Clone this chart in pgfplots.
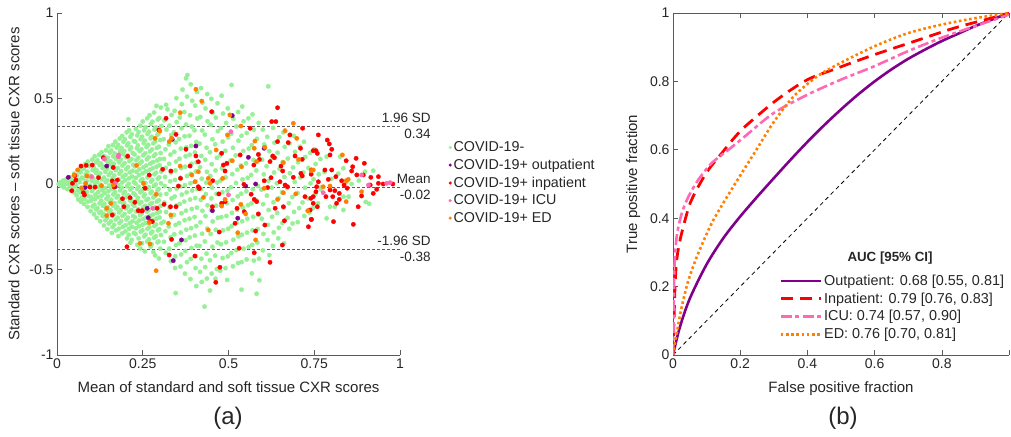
\documentclass[border=0pt]{standalone}
\usepackage{fontspec}
\setmainfont{Liberation Sans}
\usepackage{pgfplots}
\pgfplotsset{compat=1.18}

\definecolor{cgreen}{RGB}{150,240,150}
\definecolor{cpurple}{RGB}{128,0,140}
\definecolor{cred}{RGB}{255,0,0}
\definecolor{cpink}{RGB}{255,105,180}
\definecolor{corange}{RGB}{255,128,0}
\definecolor{axcol}{RGB}{90,90,90}
\definecolor{txtcol}{RGB}{38,38,38}

\pgfplotsset{
  common/.style={
    scale only axis,
    tick align=inside,
    major tick length=5pt,
    tick style={draw=axcol, line width=0.6pt},
    axis line style={draw=axcol, line width=0.8pt, -},
    tick label style={font=\fontsize{14}{16}\selectfont, text=txtcol},
    label style={font=\fontsize{15}{17}\selectfont, text=txtcol},
    xlabel style={yshift=-6pt},
    ylabel style={yshift=3pt},
  },
  sdots/.style={only marks, mark=*, mark size=2.2pt, color=#1, mark options={line width=0.3pt}},
}

\begin{document}
\begin{tikzpicture}[x=1pt,y=1pt]
\useasboundingbox (0,0) rectangle (1011,436);

% (a) Bland-Altman
\begin{axis}[common,
  at={(57pt,81pt)}, anchor=south west,
  width=343pt, height=342pt,
  xmin=0, xmax=1, ymin=-1, ymax=1,
  axis x line*=bottom, axis y line*=left,
  xtick={0,0.25,0.5,0.75,1}, xticklabels={0,0.25,0.5,0.75,1},
  ytick={-1,-0.5,0,0.5,1}, yticklabels={-1,-0.5,0,0.5,1},
  xlabel={Mean of standard and soft tissue CXR scores},
  ylabel={Standard CXR scores -- soft tissue CXR scores},
  clip=false,
  legend style={at={(1.133,0.636)}, anchor=north west, draw=none, fill=none,
    font=\fontsize{14.3}{16}\selectfont, text=txtcol, row sep=2pt},
  legend cell align=left,
  legend image code/.code={\draw[mark repeat=2,mark phase=2,#1] plot coordinates {(0pt,0pt) (3pt,0pt) (11pt,0pt)};},
  legend image post style={mark size=1.4pt},
]
% COVID-19-
\addplot[sdots=cgreen] coordinates {
(0.005,0.0) (0.01,0.01) (0.012,-0.01) (0.018,0.02) (0.02,-0.02) (0.025,0.0) (0.028,0.03) (0.03,-0.03) (0.035,0.01) (0.038,-0.01) (0.04,0.04) (0.042,-0.04) (0.045,0.02) (0.048,-0.02) (0.05,0.06) (0.05,-0.05) (0.052,0.0) (0.015,0.0) (0.032,0.0) (0.022,0.01)
(0.063,0.083) (0.058,0.052) (0.064,0.024) (0.056,-0.008) (0.061,-0.037) (0.057,-0.066) (0.062,-0.091)
(0.07,0.097) (0.069,0.069) (0.073,0.037) (0.066,0.011) (0.071,-0.021) (0.067,-0.048) (0.072,-0.079) (0.07,-0.104)
(0.083,0.118) (0.078,0.089) (0.084,0.058) (0.076,0.033) (0.081,0.002) (0.077,-0.031) (0.082,-0.057) (0.08,-0.088) (0.079,-0.117)
(0.09,0.131) (0.094,0.104) (0.088,0.072) (0.093,0.041) (0.086,0.016) (0.091,-0.014) (0.087,-0.046) (0.092,-0.071) (0.09,-0.103) (0.089,-0.134)
(0.103,0.143) (0.098,0.109) (0.104,0.082) (0.096,0.048) (0.101,0.019) (0.097,-0.009) (0.102,-0.041) (0.1,-0.076) (0.099,-0.098) (0.104,-0.131) (0.098,-0.158)
(0.11,0.162) (0.114,0.127) (0.108,0.094) (0.113,0.066) (0.106,0.031) (0.111,0.004) (0.107,-0.027) (0.112,-0.062) (0.11,-0.089) (0.109,-0.121) (0.114,-0.148) (0.108,-0.177)
(0.123,0.171) (0.118,0.138) (0.124,0.112) (0.116,0.079) (0.121,0.047) (0.117,0.013) (0.122,-0.018) (0.12,-0.047) (0.119,-0.076) (0.124,-0.113) (0.118,-0.141) (0.123,-0.168) (0.116,-0.198)
(0.13,0.186) (0.134,0.158) (0.128,0.121) (0.133,0.093) (0.126,0.062) (0.131,0.027) (0.127,-0.004) (0.132,-0.036) (0.13,-0.068) (0.129,-0.097) (0.134,-0.128) (0.128,-0.162) (0.133,-0.187) (0.126,-0.218)
(0.143,0.197) (0.138,0.163) (0.144,0.136) (0.136,0.102) (0.141,0.071) (0.137,0.038) (0.142,0.011) (0.14,-0.024) (0.139,-0.053) (0.144,-0.087) (0.138,-0.116) (0.143,-0.149) (0.136,-0.177) (0.141,-0.212) (0.137,-0.243)
(0.15,0.221) (0.154,0.184) (0.148,0.153) (0.153,0.117) (0.146,0.089) (0.151,0.053) (0.147,0.021) (0.152,-0.009) (0.15,-0.042) (0.149,-0.071) (0.154,-0.104) (0.148,-0.137) (0.153,-0.166) (0.146,-0.198) (0.151,-0.231) (0.147,-0.264)
(0.163,0.228) (0.158,0.196) (0.164,0.161) (0.156,0.132) (0.161,0.097) (0.157,0.066) (0.162,0.034) (0.16,0.003) (0.159,-0.029) (0.164,-0.061) (0.158,-0.092) (0.163,-0.127) (0.156,-0.154) (0.161,-0.188) (0.157,-0.219) (0.162,-0.252) (0.16,-0.286)
(0.17,0.248) (0.174,0.213) (0.168,0.179) (0.173,0.146) (0.166,0.118) (0.171,0.081) (0.167,0.049) (0.172,0.017) (0.17,-0.016) (0.169,-0.047) (0.174,-0.079) (0.168,-0.112) (0.173,-0.143) (0.166,-0.177) (0.171,-0.208) (0.167,-0.239) (0.172,-0.271)
(0.183,0.266) (0.178,0.229) (0.184,0.193) (0.176,0.158) (0.181,0.127) (0.177,0.093) (0.182,0.061) (0.18,0.027) (0.179,-0.006) (0.184,-0.037) (0.178,-0.069) (0.183,-0.103) (0.176,-0.134) (0.181,-0.166) (0.177,-0.197) (0.182,-0.228) (0.18,-0.262) (0.179,-0.305)
(0.19,0.281) (0.194,0.247) (0.188,0.211) (0.193,0.174) (0.186,0.143) (0.191,0.108) (0.187,0.076) (0.192,0.043) (0.19,0.009) (0.189,-0.022) (0.194,-0.056) (0.188,-0.088) (0.193,-0.121) (0.186,-0.153) (0.191,-0.186) (0.187,-0.217) (0.192,-0.251) (0.19,-0.289)
(0.203,0.302) (0.198,0.262) (0.204,0.226) (0.196,0.193) (0.201,0.156) (0.197,0.122) (0.202,0.087) (0.2,0.054) (0.199,0.022) (0.204,-0.013) (0.198,-0.046) (0.203,-0.077) (0.196,-0.111) (0.201,-0.142) (0.197,-0.176) (0.202,-0.208) (0.2,-0.241) (0.199,-0.277) (0.204,-0.318)
(0.21,0.314) (0.214,0.276) (0.208,0.238) (0.213,0.203) (0.206,0.167) (0.211,0.134) (0.207,0.099) (0.212,0.068) (0.21,0.033) (0.209,0.001) (0.214,-0.032) (0.208,-0.066) (0.213,-0.097) (0.206,-0.131) (0.211,-0.163) (0.207,-0.197) (0.212,-0.229) (0.21,-0.262) (0.209,-0.297) (0.214,-0.343)
(0.208,0.378) (0.218,0.291) (0.224,0.252) (0.216,0.214) (0.221,0.181) (0.217,0.146) (0.222,0.112) (0.22,0.077) (0.219,0.044) (0.224,0.012) (0.218,-0.023) (0.223,-0.054) (0.216,-0.088) (0.221,-0.119) (0.217,-0.152) (0.222,-0.187) (0.22,-0.218) (0.219,-0.251) (0.224,-0.286) (0.218,-0.327)
(0.23,0.322) (0.234,0.284) (0.228,0.247) (0.233,0.209) (0.226,0.173) (0.231,0.139) (0.227,0.104) (0.232,0.071) (0.23,0.036) (0.229,0.003) (0.234,-0.029) (0.228,-0.064) (0.233,-0.096) (0.226,-0.128) (0.231,-0.161) (0.227,-0.194) (0.232,-0.227) (0.23,-0.259) (0.229,-0.293) (0.234,-0.356)
(0.243,0.341) (0.238,0.304) (0.244,0.262) (0.236,0.226) (0.241,0.192) (0.237,0.154) (0.242,0.121) (0.24,0.086) (0.239,0.052) (0.244,0.019) (0.238,-0.016) (0.243,-0.048) (0.236,-0.081) (0.241,-0.114) (0.237,-0.147) (0.242,-0.181) (0.24,-0.213) (0.239,-0.247) (0.244,-0.279) (0.238,-0.318) (0.243,-0.377)
(0.25,0.366) (0.254,0.314) (0.248,0.277) (0.253,0.239) (0.246,0.203) (0.251,0.168) (0.247,0.131) (0.252,0.097) (0.25,0.063) (0.249,0.028) (0.254,-0.006) (0.248,-0.039) (0.253,-0.072) (0.246,-0.106) (0.251,-0.138) (0.247,-0.172) (0.252,-0.204) (0.25,-0.238) (0.249,-0.271) (0.254,-0.306) (0.248,-0.346)
(0.263,0.384) (0.258,0.331) (0.264,0.292) (0.256,0.253) (0.261,0.216) (0.257,0.179) (0.262,0.144) (0.26,0.108) (0.259,0.074) (0.264,0.039) (0.258,0.006) (0.263,-0.028) (0.256,-0.061) (0.261,-0.094) (0.257,-0.128) (0.262,-0.161) (0.26,-0.196) (0.259,-0.228) (0.264,-0.262) (0.258,-0.297) (0.263,-0.336) (0.256,-0.394)
(0.27,0.402) (0.274,0.351) (0.268,0.306) (0.273,0.267) (0.266,0.229) (0.271,0.191) (0.267,0.156) (0.272,0.119) (0.27,0.083) (0.269,0.048) (0.274,0.014) (0.268,-0.019) (0.273,-0.053) (0.266,-0.087) (0.271,-0.119) (0.267,-0.153) (0.272,-0.186) (0.27,-0.221) (0.269,-0.253) (0.274,-0.288) (0.268,-0.324) (0.273,-0.366)
(0.283,0.418) (0.278,0.364) (0.284,0.318) (0.276,0.276) (0.281,0.238) (0.277,0.202) (0.282,0.163) (0.28,0.128) (0.279,0.092) (0.284,0.057) (0.278,0.024) (0.283,-0.011) (0.276,-0.044) (0.281,-0.078) (0.277,-0.111) (0.282,-0.144) (0.28,-0.178) (0.279,-0.212) (0.284,-0.246) (0.278,-0.279) (0.283,-0.314) (0.276,-0.352) (0.281,-0.398)
(0.29,0.457) (0.294,0.377) (0.288,0.331) (0.293,0.289) (0.286,0.249) (0.291,0.211) (0.287,0.174) (0.292,0.137) (0.29,0.101) (0.289,0.066) (0.294,0.031) (0.288,-0.003) (0.293,-0.037) (0.286,-0.069) (0.291,-0.103) (0.287,-0.137) (0.292,-0.169) (0.29,-0.203) (0.289,-0.237) (0.294,-0.271) (0.288,-0.306) (0.293,-0.341) (0.286,-0.417)
(0.303,0.447) (0.298,0.386) (0.304,0.339) (0.296,0.296) (0.301,0.257) (0.297,0.218) (0.302,0.181) (0.3,0.146) (0.299,0.109) (0.304,0.073) (0.298,0.038) (0.303,0.004) (0.296,-0.029) (0.301,-0.062) (0.297,-0.096) (0.302,-0.128) (0.3,-0.162) (0.299,-0.196) (0.304,-0.229) (0.298,-0.264) (0.303,-0.298) (0.296,-0.336) (0.301,-0.378) (0.297,-0.436)
(0.318,0.463) (0.313,0.372) (0.319,0.318) (0.311,0.262) (0.316,0.203) (0.312,0.147) (0.317,0.094) (0.315,0.041) (0.314,-0.012) (0.319,-0.058) (0.313,-0.109) (0.318,-0.164) (0.311,-0.221) (0.316,-0.276) (0.312,-0.338) (0.317,-0.402)
(0.322,0.437) (0.334,0.404) (0.328,0.341) (0.333,0.286) (0.326,0.231) (0.331,0.172) (0.327,0.118) (0.332,0.067) (0.33,0.016) (0.329,-0.033) (0.334,-0.084) (0.328,-0.137) (0.333,-0.192) (0.326,-0.249) (0.331,-0.311) (0.327,-0.378) (0.332,-0.452)
(0.348,0.502) (0.343,0.428) (0.349,0.362) (0.341,0.302) (0.346,0.244) (0.342,0.188) (0.347,0.131) (0.345,0.079) (0.344,0.024) (0.349,-0.027) (0.343,-0.073) (0.348,-0.126) (0.341,-0.181) (0.346,-0.239) (0.342,-0.294) (0.347,-0.357) (0.345,-0.423) (0.344,-0.491) (0.346,-0.638)
(0.366,0.552) (0.364,0.467) (0.358,0.389) (0.363,0.326) (0.356,0.263) (0.361,0.207) (0.357,0.148) (0.362,0.093) (0.36,0.036) (0.359,-0.014) (0.364,-0.062) (0.358,-0.117) (0.363,-0.171) (0.356,-0.228) (0.361,-0.284) (0.357,-0.346) (0.362,-0.412) (0.36,-0.483)
(0.38,0.637) (0.376,0.618) (0.379,0.511) (0.371,0.421) (0.376,0.348) (0.372,0.279) (0.377,0.214) (0.375,0.162) (0.374,0.101) (0.379,0.047) (0.373,-0.007) (0.378,-0.049) (0.371,-0.103) (0.376,-0.156) (0.372,-0.212) (0.377,-0.267) (0.375,-0.329) (0.374,-0.391) (0.379,-0.457) (0.373,-0.524)
(0.39,0.583) (0.394,0.487) (0.388,0.402) (0.393,0.336) (0.386,0.282) (0.391,0.223) (0.387,0.171) (0.392,0.118) (0.39,0.059) (0.389,0.004) (0.394,-0.038) (0.388,-0.091) (0.393,-0.146) (0.386,-0.203) (0.391,-0.258) (0.387,-0.312) (0.392,-0.374) (0.39,-0.438) (0.389,-0.556)
(0.408,0.538) (0.403,0.458) (0.409,0.383) (0.401,0.314) (0.406,0.246) (0.402,0.184) (0.407,0.127) (0.405,0.073) (0.404,0.016) (0.409,-0.029) (0.403,-0.082) (0.408,-0.138) (0.401,-0.193) (0.406,-0.246) (0.402,-0.302) (0.407,-0.361) (0.405,-0.423) (0.404,-0.492) (0.406,-0.597)
(0.42,0.561) (0.424,0.476) (0.418,0.392) (0.423,0.313) (0.416,0.236) (0.421,0.164) (0.417,0.098) (0.422,0.031) (0.42,-0.028) (0.419,-0.093) (0.424,-0.157) (0.418,-0.224) (0.423,-0.291) (0.416,-0.362) (0.421,-0.437) (0.417,-0.514) (0.422,-0.573)
(0.438,0.526) (0.433,0.442) (0.439,0.367) (0.431,0.289) (0.436,0.212) (0.432,0.142) (0.437,0.071) (0.435,0.008) (0.434,-0.059) (0.439,-0.124) (0.433,-0.188) (0.438,-0.261) (0.431,-0.336) (0.436,-0.407) (0.432,-0.486) (0.437,-0.553) (0.43,-0.717)
(0.45,0.498) (0.454,0.417) (0.448,0.346) (0.453,0.262) (0.446,0.186) (0.451,0.116) (0.447,0.047) (0.452,-0.021) (0.45,-0.084) (0.449,-0.152) (0.454,-0.219) (0.448,-0.292) (0.453,-0.367) (0.446,-0.446) (0.451,-0.524) (0.446,-0.623)
(0.468,0.472) (0.463,0.388) (0.469,0.309) (0.461,0.232) (0.466,0.153) (0.462,0.079) (0.467,0.009) (0.465,-0.058) (0.464,-0.127) (0.469,-0.198) (0.463,-0.268) (0.468,-0.342) (0.461,-0.419) (0.466,-0.497) (0.462,-0.554)
(0.48,0.516) (0.484,0.412) (0.478,0.327) (0.483,0.248) (0.476,0.168) (0.481,0.092) (0.477,0.021) (0.482,-0.048) (0.48,-0.121) (0.479,-0.194) (0.484,-0.271) (0.478,-0.352) (0.483,-0.433) (0.476,-0.507)
(0.498,0.442) (0.493,0.357) (0.499,0.273) (0.491,0.194) (0.496,0.116) (0.492,0.038) (0.497,-0.039) (0.495,-0.112) (0.494,-0.187) (0.499,-0.262) (0.493,-0.341) (0.498,-0.423) (0.491,-0.492) (0.496,-0.561)
(0.509,0.579) (0.514,0.382) (0.508,0.294) (0.513,0.212) (0.506,0.137) (0.511,0.058) (0.507,-0.019) (0.512,-0.094) (0.51,-0.169) (0.509,-0.247) (0.514,-0.326) (0.508,-0.404) (0.513,-0.481)
(0.528,0.421) (0.523,0.336) (0.529,0.253) (0.521,0.167) (0.526,0.083) (0.522,0.006) (0.527,-0.072) (0.525,-0.151) (0.524,-0.228) (0.529,-0.306) (0.523,-0.387) (0.528,-0.462)
(0.54,0.453) (0.544,0.367) (0.538,0.282) (0.543,0.193) (0.536,0.108) (0.541,0.027) (0.537,-0.057) (0.542,-0.137) (0.54,-0.218) (0.539,-0.297) (0.544,-0.378) (0.538,-0.457) (0.538,-0.618)
(0.558,0.384) (0.553,0.298) (0.559,0.207) (0.551,0.121) (0.556,0.036) (0.552,-0.043) (0.557,-0.124) (0.555,-0.203) (0.554,-0.284) (0.559,-0.368) (0.553,-0.441)
(0.57,0.407) (0.574,0.318) (0.568,0.228) (0.573,0.141) (0.566,0.053) (0.571,-0.031) (0.567,-0.113) (0.572,-0.192) (0.57,-0.271) (0.569,-0.356) (0.574,-0.448) (0.568,-0.523)
(0.588,0.357) (0.583,0.264) (0.589,0.171) (0.581,0.079) (0.586,-0.012) (0.582,-0.098) (0.587,-0.181) (0.585,-0.263) (0.584,-0.342) (0.589,-0.437) (0.582,-0.642)
(0.6,0.318) (0.604,0.231) (0.598,0.142) (0.603,0.056) (0.596,-0.033) (0.601,-0.118) (0.597,-0.203) (0.602,-0.292) (0.6,-0.388) (0.59,-0.563)
(0.616,0.571) (0.613,0.276) (0.619,0.192) (0.611,0.104) (0.616,0.018) (0.612,-0.068) (0.617,-0.152) (0.615,-0.239) (0.614,-0.327) (0.619,-0.416)
(0.63,0.328) (0.634,0.241) (0.628,0.153) (0.633,0.067) (0.626,-0.021) (0.631,-0.107) (0.627,-0.192) (0.632,-0.283) (0.63,-0.362)
(0.648,0.274) (0.643,0.183) (0.649,0.089) (0.641,0.004) (0.646,-0.083) (0.642,-0.169) (0.647,-0.256) (0.645,-0.318)
(0.66,0.302) (0.664,0.217) (0.658,0.128) (0.663,0.041) (0.656,-0.048) (0.661,-0.137) (0.657,-0.228) (0.662,-0.347)
(0.678,0.238) (0.673,0.149) (0.679,0.063) (0.671,-0.024) (0.676,-0.112) (0.672,-0.198) (0.677,-0.262)
(0.69,0.281) (0.694,0.188) (0.688,0.097) (0.693,0.012) (0.686,-0.076) (0.691,-0.163) (0.687,-0.231)
(0.708,0.218) (0.703,0.127) (0.709,0.038) (0.701,-0.053) (0.706,-0.141) (0.702,-0.223)
(0.72,0.247) (0.724,0.158) (0.718,0.067) (0.723,-0.022) (0.716,-0.108) (0.721,-0.187)
(0.738,0.183) (0.733,0.094) (0.739,0.004) (0.731,-0.084) (0.736,-0.167)
(0.75,0.204) (0.754,0.117) (0.748,0.028) (0.753,-0.058) (0.746,-0.141)
(0.768,0.146) (0.763,0.057) (0.769,-0.031) (0.761,-0.113)
(0.786,0.16) (0.825,0.16) (0.835,0.092) (0.898,0.072) (0.845,0.014) (0.859,0.0) (0.922,0.078) (0.835,-0.074) (0.85,-0.074) (0.796,-0.133) (0.81,-0.133) (0.835,-0.152) (0.786,-0.201) (0.9,-0.105) (0.91,-0.115) (0.78,0.07) (0.8,0.03) (0.82,0.06) (0.77,-0.02) (0.88,0.02)
};
\addlegendentry{COVID-19-}
% COVID-19+ outpatient
\addplot[sdots=cpurple] coordinates {
(0.033,0.039) (0.145,0.105) (0.082,-0.02) (0.169,-0.016) (0.336,0.261) (0.405,0.222) (0.263,-0.142) (0.266,-0.197) (0.453,-0.156) (0.363,-0.327) (0.339,-0.448) (0.511,0.4) (0.558,0.156) (0.604,0.209) (0.55,-0.012) (0.579,0.0) (0.527,-0.2)
};
\addlegendentry{COVID-19+ outpatient}
% COVID-19+ inpatient
\addplot[sdots=cred] coordinates {
(0.135,0.154) (0.164,0.097) (0.103,0.111) (0.085,0.109) (0.07,0.105) (0.052,0.049) (0.045,0.004) (0.043,-0.039) (0.077,-0.051) (0.08,-0.064) (0.096,-0.018) (0.111,-0.018) (0.121,0.037) (0.161,0.018) (0.176,0.023) (0.167,-0.018) (0.191,-0.086) (0.195,-0.133) (0.213,-0.08) (0.227,-0.107) (0.237,-0.156) (0.249,-0.156) (0.206,0.162) (0.204,-0.367) (0.161,-0.181) (0.055,0.023)
(0.318,0.384) (0.297,0.316) (0.347,0.29) (0.376,0.203) (0.405,0.164) (0.412,0.13) (0.48,0.18) (0.485,0.111) (0.49,0.076) (0.388,0.105) (0.332,0.076) (0.308,0.086) (0.269,0.053) (0.36,0.033) (0.354,-0.012) (0.412,-0.016) (0.415,-0.027) (0.454,0.019) (0.472,-0.058) (0.48,-0.113) (0.453,-0.133) (0.312,-0.119) (0.331,-0.133) (0.347,-0.133) (0.292,-0.142) (0.271,-0.216) (0.278,-0.22) (0.257,-0.025) (0.247,-0.158) (0.473,-0.281) (0.334,-0.324) (0.327,-0.415) (0.402,-0.421) (0.475,-0.487) (0.463,-0.575) (0.451,0.423)
(0.643,0.446) (0.626,0.365) (0.638,0.365) (0.563,0.326) (0.679,0.287) (0.716,0.326) (0.643,0.248) (0.674,0.242) (0.71,0.209) (0.629,0.164) (0.634,0.154) (0.694,0.164) (0.715,0.144) (0.747,0.195) (0.587,0.173) (0.59,0.144) (0.621,0.131) (0.574,0.111) (0.653,0.105) (0.658,0.076) (0.534,0.17) (0.495,0.121) (0.711,0.062) (0.715,0.047) (0.741,0.057) (0.689,0.039) (0.624,0.037) (0.604,0.019) (0.65,0.013) (0.665,-0.006) (0.672,-0.016) (0.614,-0.021) (0.566,-0.06) (0.545,-0.002) (0.575,-0.09) (0.582,-0.103) (0.49,-0.103) (0.525,-0.142) (0.546,-0.162) (0.636,-0.142) (0.66,-0.133) (0.723,-0.074) (0.747,-0.074) (0.747,-0.113) (0.587,-0.175) (0.519,-0.23) (0.606,-0.24) (0.663,-0.215) (0.741,-0.207) (0.733,-0.25) (0.579,-0.275) (0.531,-0.376) (0.575,-0.402) (0.657,-0.357) (0.621,-0.458)
(0.762,0.287) (0.788,0.257) (0.794,0.234) (0.801,0.203) (0.755,0.195) (0.759,0.179) (0.796,0.17) (0.781,0.082) (0.801,0.082) (0.742,0.082) (0.843,0.136) (0.862,0.101) (0.859,0.076) (0.872,0.15) (0.896,0.121) (0.874,0.053) (0.893,0.053) (0.915,0.039) (0.937,0.043) (0.813,0.043) (0.83,0.019) (0.791,0.027) (0.762,0.013) (0.837,-0.006) (0.846,-0.025) (0.757,-0.016) (0.796,-0.035) (0.81,-0.039) (0.804,-0.074) (0.823,-0.055) (0.823,-0.09) (0.815,-0.113) (0.755,-0.045) (0.784,-0.074) (0.74,-0.084) (0.759,-0.133) (0.742,-0.207) (0.806,-0.22) (0.864,-0.236) (0.878,-0.133) (0.888,-0.07) (0.922,-0.055) (0.932,-0.031) (0.937,0.004) (0.951,0.0) (0.979,0.0) (0.913,-0.006) (0.738,-0.152)
};
\addlegendentry{COVID-19+ inpatient}
% COVID-19+ ICU
\addplot[sdots=cpink] coordinates {
(0.138,0.146) (0.179,0.16) (0.101,0.043) (0.169,0.004) (0.279,-0.142) (0.5,-0.064) (0.507,0.306) (0.776,-0.051) (0.888,0.053) (0.908,-0.006) (0.961,0.004) (0.971,0.008) (0.18,0.17)
};
\addlegendentry{COVID-19+ ICU}
% COVID-19+ ED
\addplot[sdots=corange] coordinates {
(0.06,0.082) (0.05,0.053) (0.087,0.047) (0.084,0.004) (0.072,-0.025) (0.13,-0.01) (0.164,-0.006) (0.232,0.109) (0.252,0.004) (0.145,-0.142) (0.157,-0.113) (0.145,-0.185) (0.242,-0.347)
(0.405,0.554) (0.422,0.485) (0.359,0.417) (0.3,0.31) (0.286,0.267) (0.327,0.248) (0.334,0.267) (0.464,0.199) (0.497,0.287) (0.359,0.105) (0.393,0.053) (0.412,0.072) (0.441,0.033) (0.446,0.004) (0.483,0.033) (0.402,0.013) (0.427,-0.078) (0.49,-0.09) (0.48,-0.129) (0.289,-0.06) (0.332,-0.181) (0.269,-0.226) (0.325,-0.23) (0.441,-0.269) (0.271,-0.351) (0.289,-0.507)
(0.504,0.404) (0.536,0.339) (0.577,0.251) (0.606,0.215) (0.665,0.312) (0.689,0.355) (0.699,0.267) (0.575,0.209) (0.511,0.136) (0.538,0.101) (0.582,0.131) (0.66,0.125) (0.704,0.144) (0.741,0.078) (0.604,-0.025) (0.66,-0.051) (0.696,-0.058) (0.643,-0.09) (0.731,-0.156) (0.536,-0.119) (0.55,-0.175) (0.527,-0.285) (0.579,-0.327)
(0.832,0.17) (0.849,0.027) (0.843,0.019) (0.747,0.082) (0.776,-0.016) (0.796,-0.012) (0.888,-0.045) (0.843,-0.103)
};
\addlegendentry{COVID-19+ ED}
% limits of agreement
\addplot[forget plot, axcol, line width=0.7pt, dash pattern=on 3pt off 2pt] coordinates {(0,0.34) (1,0.34)};
\addplot[forget plot, axcol, line width=0.7pt, dash pattern=on 3pt off 2pt] coordinates {(0,-0.02) (1,-0.02)};
\addplot[forget plot, axcol, line width=0.7pt, dash pattern=on 3pt off 2pt] coordinates {(0,-0.38) (1,-0.38)};
\node[anchor=east, align=right, font=\fontsize{13.5}{16}\selectfont, text=txtcol, inner sep=0pt] at (axis cs:1.09,0.34) {1.96 SD\\0.34};
\node[anchor=east, align=right, font=\fontsize{13.5}{16}\selectfont, text=txtcol, inner sep=0pt] at (axis cs:1.09,-0.02) {Mean\\-0.02};
\node[anchor=east, align=right, font=\fontsize{13.5}{16}\selectfont, text=txtcol, inner sep=0pt] at (axis cs:1.09,-0.38) {-1.96 SD\\-0.38};
\end{axis}

% (b) ROC
\begin{axis}[common,
  at={(673pt,81pt)}, anchor=south west,
  width=336pt, height=342pt,
  xmin=0, xmax=1, ymin=0, ymax=1,
  axis x line*=box, axis y line*=left,
  xtick={0,0.2,0.4,0.6,0.8,1}, xticklabels={0,0.2,0.4,0.6,0.8,},
  ytick={0,0.2,0.4,0.6,0.8,1}, yticklabels={0,0.2,0.4,0.6,0.8,1},
  xlabel={False positive fraction},
  ylabel={True positive fraction},
  legend style={at={(0.307,0.246)}, anchor=north west, draw=none, fill=none,
    font=\fontsize{14.4}{16.5}\selectfont, text=txtcol, row sep=1.8pt},
  legend cell align=left,
  legend image code/.code={\draw[#1] (0pt,0pt) -- (40pt,0pt);},
]
\addplot[forget plot, black, line width=0.8pt, dash pattern=on 4pt off 3.5pt] coordinates {(0,0) (1,1)};
\addplot[cpurple, line width=2.6pt, smooth] coordinates {
(0,0) (0.02,0.08) (0.05,0.165) (0.1,0.265) (0.15,0.342) (0.2,0.405) (0.25,0.462) (0.3,0.517) (0.35,0.571) (0.4,0.623) (0.45,0.672) (0.5,0.718) (0.55,0.761) (0.6,0.8) (0.65,0.835) (0.7,0.866) (0.75,0.893) (0.8,0.918) (0.85,0.94) (0.9,0.962) (0.95,0.981) (1,1)
};
\addlegendentry{Outpatient: 0.68 [0.55, 0.81]}
\addplot[cred, line width=2.8pt, dash pattern=on 12pt off 7pt, smooth] coordinates {
(0,0) (0.003,0.102) (0.006,0.2) (0.011,0.278) (0.021,0.336) (0.036,0.395) (0.051,0.444) (0.075,0.492) (0.105,0.541) (0.145,0.59) (0.185,0.638) (0.219,0.672) (0.309,0.746) (0.398,0.804) (0.487,0.838) (0.596,0.877) (0.715,0.916) (0.834,0.955) (0.943,0.984) (1,1)
};
\addlegendentry{Inpatient: 0.79 [0.76, 0.83]}
\addplot[cpink, line width=2.6pt, dash pattern=on 11pt off 3.5pt on 4pt off 3.5pt, smooth] coordinates {
(0,0) (0.002,0.1) (0.004,0.249) (0.011,0.346) (0.026,0.414) (0.046,0.463) (0.075,0.512) (0.115,0.561) (0.165,0.6) (0.21,0.636) (0.299,0.707) (0.398,0.76) (0.497,0.804) (0.596,0.843) (0.696,0.887) (0.795,0.926) (0.894,0.96) (1,0.995)
};
\addlegendentry{ICU: 0.74 [0.57, 0.90]}
\addplot[corange, line width=2.6pt, dash pattern=on 2.6pt off 2.6pt, smooth] coordinates {
(0,0) (0.011,0.063) (0.026,0.141) (0.046,0.219) (0.075,0.297) (0.115,0.385) (0.155,0.453) (0.204,0.531) (0.25,0.603) (0.299,0.68) (0.358,0.755) (0.428,0.814) (0.497,0.853) (0.596,0.901) (0.696,0.94) (0.795,0.965) (0.894,0.984) (1,1)
};
\addlegendentry{ED: 0.76 [0.70, 0.81]}
\end{axis}

\node[font=\bfseries\fontsize{13.3}{15}\selectfont, text=txtcol] at (890,178) {AUC [95\% CI]};
\node[font=\fontsize{24}{27}\selectfont, text=txtcol] at (228,18) {(a)};
\node[font=\fontsize{24}{27}\selectfont, text=txtcol] at (843,18) {(b)};
\end{tikzpicture}
\end{document}
